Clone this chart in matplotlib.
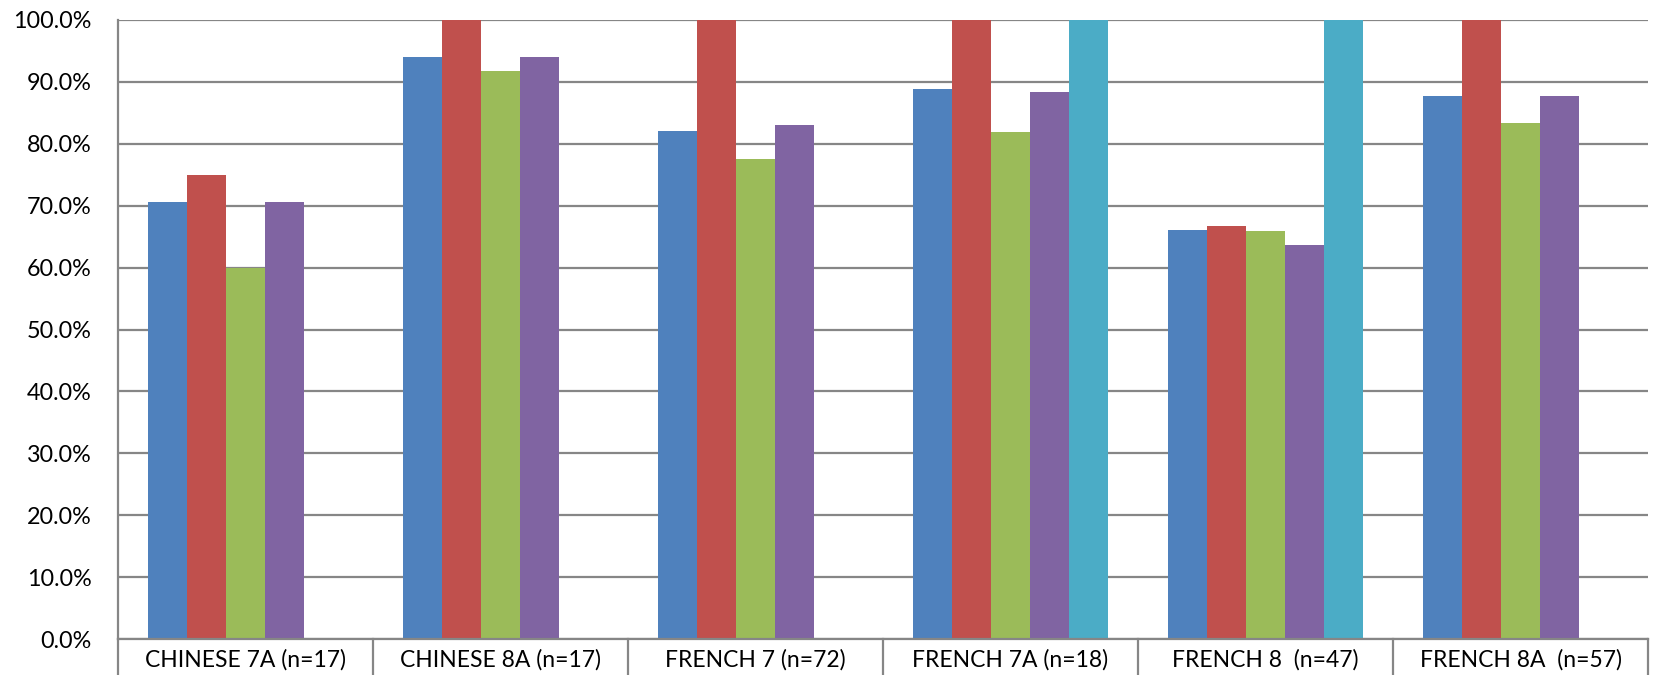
import numpy as np
import matplotlib.pyplot as plt
from matplotlib.ticker import FuncFormatter
import matplotlib.transforms as mtransforms

categories = ['CHINESE 7A (n=17)', 'CHINESE 8A (n=17)', 'FRENCH 7 (n=72)',
              'FRENCH 7A (n=18)', 'FRENCH 8  (n=47)', 'FRENCH 8A  (n=57)']

# values in percent (nan = no bar)
blue   = [70.6, 94.1, 82.0, 88.9, 66.0, 87.7]
red    = [75.0, 100.0, 100.0, 100.0, 66.7, 100.0]
green  = [60.0, 91.7, 77.6, 81.9, 65.9, 83.3]
purple = [70.6, 94.1, 83.1, 88.3, 63.6, 87.7]
cyan   = [np.nan, np.nan, np.nan, 100.0, 100.0, np.nan]

series = [blue, red, green, purple, cyan]
colors = ['#4F81BD', '#C0504D', '#9BBB59', '#8064A2', '#4BACC6']

plt.rcParams['font.family'] = ['Lato', 'DejaVu Sans']

fig = plt.figure(figsize=(16.55, 6.75), dpi=100)
ax = fig.add_axes([118/1655, 36/675, 1530/1655, 619/675])

x = np.arange(len(categories))
w = 39/255
for i, (vals, c) in enumerate(zip(series, colors)):
    ax.bar(x + (i - 2) * w, vals, width=w, color=c, edgecolor='none', zorder=2)

ax.set_xlim(-0.5, len(categories) - 0.5)
ax.set_ylim(0, 100)
ax.set_yticks(np.arange(0, 101, 10))
ax.yaxis.set_major_formatter(FuncFormatter(lambda v, p: '%.1f%%' % v))
ax.tick_params(axis='y', length=0, pad=19, labelsize=16.8)
ax.set_xticks([])
ax.grid(axis='y', color='#868686', linewidth=1.6, zorder=0)
ax.set_axisbelow(True)

for s in ['top', 'right', 'bottom']:
    ax.spines[s].set_visible(False)
ax.spines['left'].set_color('#868686')
ax.spines['left'].set_linewidth(1.6)

# category table below the axis
trans = mtransforms.blended_transform_factory(ax.transData, ax.transAxes)
ax.plot([-0.5, len(categories) - 0.5], [0, 0], color='#868686', lw=1.6,
        transform=trans, clip_on=False, zorder=3)
for b in np.arange(-0.5, len(categories), 1.0):
    ax.plot([b, b], [0, -0.07], color='#868686', lw=1.6,
            transform=trans, clip_on=False)
for xi, lab in zip(x, categories):
    ax.text(xi, -0.034, lab, transform=trans, ha='center', va='center',
            fontsize=16.5, color='black')

fig.savefig('out.png', dpi=100)
